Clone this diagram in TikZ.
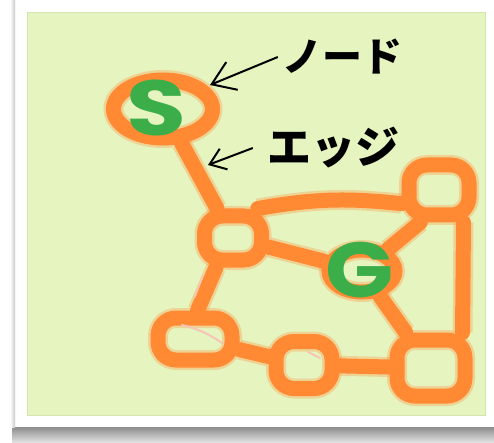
\documentclass[tikz,border=0pt]{standalone}
\usepackage{fontspec}
\newfontfamily\jpfont{Noto Sans CJK JP}
\newfontfamily\letterfont{Poppins}
\usepackage{tikz}
\usetikzlibrary{shapes.geometric,arrows.meta}

\definecolor{panel}{HTML}{E6F5C0}
\definecolor{panelrim}{HTML}{D3E4AE}
\definecolor{crayon}{HTML}{FF8A33}
\definecolor{leaf}{HTML}{3BAE4A}
\definecolor{blush}{HTML}{F7C4B6}

\tikzset{
  chalk/.style={draw=crayon, line width=15pt,
    preaction={draw=crayon, line width=20pt, opacity=.3}},
  spot/.style={chalk, rectangle, rounded corners=18pt, inner sep=0pt},
  blob/.style={chalk, ellipse, inner sep=0pt},
  link/.style={chalk, line cap=round},
  letter/.style={text=leaf, inner sep=0pt, font=\letterfont\bfseries\fontsize{78}{78}\selectfont},
  handtext/.style={inner sep=0pt, font=\jpfont\bfseries\fontsize{40}{40}\selectfont},
  pointer/.style={line width=2pt, -{Straight Barb[length=22pt,width=30pt]}},
}

\begin{document}
\begin{tikzpicture}[x=1pt, y=-1pt]
\useasboundingbox (0,0) rectangle (494,443);
% card and panel
\fill[white] (0,0) rectangle (494,443);
\shade[top color=black!45, bottom color=black!10] (12,427) rectangle (494,443);
\shade[left color=black!4, right color=black!22] (11,0) rectangle (15,427);
\fill[panel, draw=panelrim, line width=1pt] (27,13) rectangle (485,415);

% nodes
\node[blob, minimum width=99pt, minimum height=58pt] (S) at (163,109) {};
\node[spot, minimum width=57pt, minimum height=44pt] (A) at (233,238) {};
\node[spot, minimum width=60pt, minimum height=50pt] (B) at (439,190) {};
\node[blob, minimum width=66pt, minimum height=42pt] (G) at (362,271) {};
\node[spot, minimum width=74pt, minimum height=42pt] (C) at (195,339) {};
\node[spot, minimum width=56pt, minimum height=47pt] (D) at (304,365) {};
\node[spot, minimum width=68pt, minimum height=56pt] (E) at (431,368) {};

% edges
\draw[link] (S) -- (A);
\draw[link] (A.50) to[bend left=8] (B.200);
\draw[link] (A) -- (G);
\draw[link] (G.40) -- (B.240);
\draw[link] (A.-120) -- (C.85);
\draw[link] (C) -- (D);
\draw[link] (D) -- (E);
\draw[link] (G) -- (E);
\draw[link] ([xshift=-13pt]B.south east) -- ([xshift=-10pt]E.north east);

% faint strokes
\draw[blush, line width=2pt, line cap=round] (182,325) to[bend left=10] (222,343);
\draw[blush, line width=2pt, line cap=round] (308,352) -- (320,358);
\draw[blush, line width=1.5pt, line cap=round] (203,275) -- (195,297);

% letters
\node[letter] (Slet) at (156,108) {\scalebox{1.25}[1]{S}};
\node[letter] (Glet) at (360,270) {\scalebox{1.15}[1]{G}};

% labels
\node[handtext] (nodelbl) at (342,57) {ノード};
\node[handtext, font=\jpfont\bfseries\fontsize{44}{44}\selectfont] (edgelbl) at (333,148) {エッジ};
\coordinate (nodetip) at (210,85);
\coordinate (edgetip) at (208,165);
\draw[pointer] ([xshift=-4pt]nodelbl.west) -- (nodetip);
\draw[pointer, -{Straight Barb[length=15pt,width=22pt]}] ([xshift=-14pt]edgelbl.west) -- (edgetip);
\end{tikzpicture}
\end{document}
